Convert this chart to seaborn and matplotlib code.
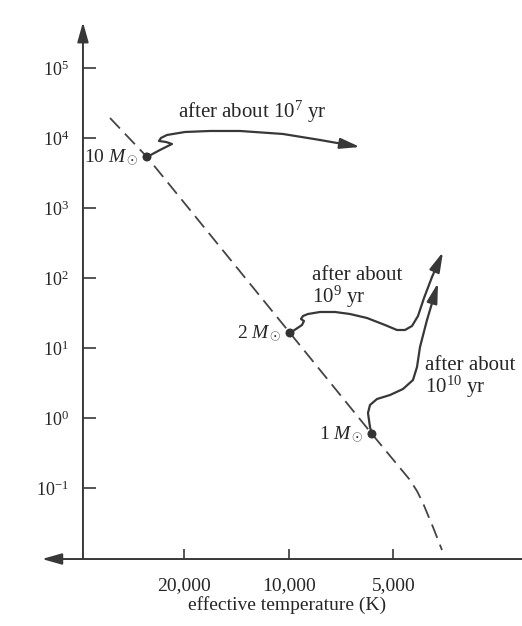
import matplotlib
matplotlib.use("Agg")
import matplotlib.pyplot as plt
import numpy as np
import pandas as pd
import seaborn as sns

# ---------------- data (temperature in K, luminosity in L_sun) ----------------
ms_T = [32780, 25650, 9934, 5768, 4481, 4279, 4112, 3979, 3848, 3625]
ms_L = [19300, 5354, 16.38, 0.5908, 0.130, 0.0906, 0.0610, 0.0411, 0.0277, 0.0130]

star_labels = ["10 $M_\\odot$", "2 $M_\\odot$", "1 $M_\\odot$"]
star_T = [25650, 9934, 5768]
star_L = [5354, 16.38, 0.5908]

track10_T = [25650, 23530, 21730, 22610, 23690, 23380, 22460, 19930, 16890, 13840, 10410, 8140, 6244]
track10_L = [5354, 6740, 8210, 8770, 9060, 10000, 11040, 12180, 12590, 12590, 11410, 9360, 7435]

track2_T = [9934, 9546, 9175, 9054, 9236, 9114, 8816, 8141, 7372, 6673, 5961, 5290, 4886, 4633, 4423,
            4250, 4084, 3873, 3601]
track2_L = [16.38, 18.68, 21.31, 24.30, 25.96, 28.65, 30.60, 32.69, 32.69, 30.60, 26.83, 21.31, 18.08,
            18.08, 20.62, 28.65, 51.8, 103.3, 235.2]

track1_T = [5768, 5844, 5922, 5844, 5579, 5117, 4695, 4394, 4278, 4194, 4004, 3722]
track1_L = [0.5908, 0.7440, 1.179, 1.533, 1.868, 2.131, 2.596, 3.490, 5.352, 10.33, 25.12, 84.8]

track_texts = ["after about $10^7$ yr", "after about\n$10^9$ yr", "after about\n$10^{10}$ yr"]
track_text_T = [20880, 8585, 4057]
track_text_L = [23510, 72.0, 3.75]

y_ticks = [0.1, 1, 10, 100, 1000, 1e4, 1e5]
y_ticklabels = ["$10^{-1}$", "$10^{0}$", "$10^{1}$", "$10^{2}$", "$10^{3}$", "$10^{4}$", "$10^{5}$"]
x_ticks = [20000, 10000, 5000]
x_ticklabels = ["20,000", "10,000", "5,000"]
x_label = "effective temperature (K)"

# ---------------- style ----------------
sns.set_style("white")
plt.rcParams["font.family"] = ["Liberation Serif", "DejaVu Serif"]
plt.rcParams["mathtext.fontset"] = "custom"
plt.rcParams["mathtext.rm"] = "Liberation Serif"
plt.rcParams["mathtext.it"] = "Liberation Serif:italic"
plt.rcParams["mathtext.bf"] = "Liberation Serif:bold"

INK = "#383838"
TXT = "#262626"

fig = plt.figure(figsize=(5.22, 6.26), dpi=100)
ax = fig.add_axes([0, 0, 1, 1])
ax.set_xscale("log")
ax.set_yscale("log")
ax.set_xlim(10 ** 4.8325, 10 ** 3.3288)
ax.set_ylim(10 ** -2.971, 10 ** 5.971)

T_axis = 39220      # where the luminosity axis stands
L_axis = 0.00968    # where the temperature axis lies

for s in ax.spines.values():
    s.set_visible(False)
ax.spines["left"].set_position(("data", T_axis))
ax.spines["bottom"].set_position(("data", L_axis))
ax.grid(False)

# axis lines with arrowheads
arrow_kw = dict(arrowstyle="-|>,head_length=0.6,head_width=0.17", color=INK, lw=1.4,
                shrinkA=0, shrinkB=0, mutation_scale=20)
ax.annotate("", xy=(T_axis, 4.5e5), xytext=(T_axis, L_axis), arrowprops=arrow_kw, annotation_clip=False)
ax.annotate("", xy=(51460, L_axis), xytext=(2000, L_axis), arrowprops=arrow_kw, annotation_clip=False)

# ticks
ax.set_yticks(y_ticks)
ax.set_yticklabels(y_ticklabels)
ax.set_xticks(x_ticks)
ax.set_xticklabels(x_ticklabels)
ax.minorticks_off()
ax.tick_params(axis="y", which="major", direction="in", length=9, width=1.2, color=INK,
               pad=10, labelsize=13, labelcolor=TXT, left=True)
ax.tick_params(axis="x", which="major", direction="in", length=7.5, width=1.2, color=INK,
               pad=13, labelsize=14, labelcolor=TXT, bottom=True)

# main sequence (dashed)
ms_df = pd.DataFrame({"T": ms_T, "L": ms_L})
sns.lineplot(data=ms_df, x="T", y="L", sort=False, estimator=None, ax=ax, color="#444444",
             lw=1.3, linestyle=(0, (8, 4)))

# evolutionary tracks (last point is the arrow tip)
for tT, tL in [(track10_T, track10_L), (track2_T, track2_L), (track1_T, track1_L)]:
    df = pd.DataFrame({"T": tT[:-1], "L": tL[:-1]})
    sns.lineplot(data=df, x="T", y="L", sort=False, estimator=None, ax=ax, color=INK, lw=1.6)
    ax.annotate("", xy=(tT[-1], tL[-1]), xytext=(tT[-2], tL[-2]),
                arrowprops=dict(arrowstyle="-|>,head_length=0.6,head_width=0.16", color=INK,
                                lw=1.6, shrinkA=0, shrinkB=0, mutation_scale=20))

# stars
star_df = pd.DataFrame({"T": star_T, "L": star_L})
sns.scatterplot(data=star_df, x="T", y="L", ax=ax, color="#333333", s=42, edgecolor="none", zorder=5)
for lab, sT, sL in zip(star_labels, star_T, star_L):
    ax.annotate(lab, xy=(sT, sL), xytext=(-6, 0), textcoords="offset points",
                ha="right", va="center", fontsize=14, color=TXT)

# track annotations
for txt, tT, tL in zip(track_texts, track_text_T, track_text_L):
    ax.text(tT, tL, txt, ha="left", va="center", fontsize=15, color=TXT, linespacing=0.95)

ax.set_xlabel("")
ax.set_ylabel("")
fig.text(287 / 522, 1 - 605 / 626, x_label, ha="center", va="center", fontsize=14, color=TXT)

fig.savefig("out.png", dpi=100, facecolor="white")
